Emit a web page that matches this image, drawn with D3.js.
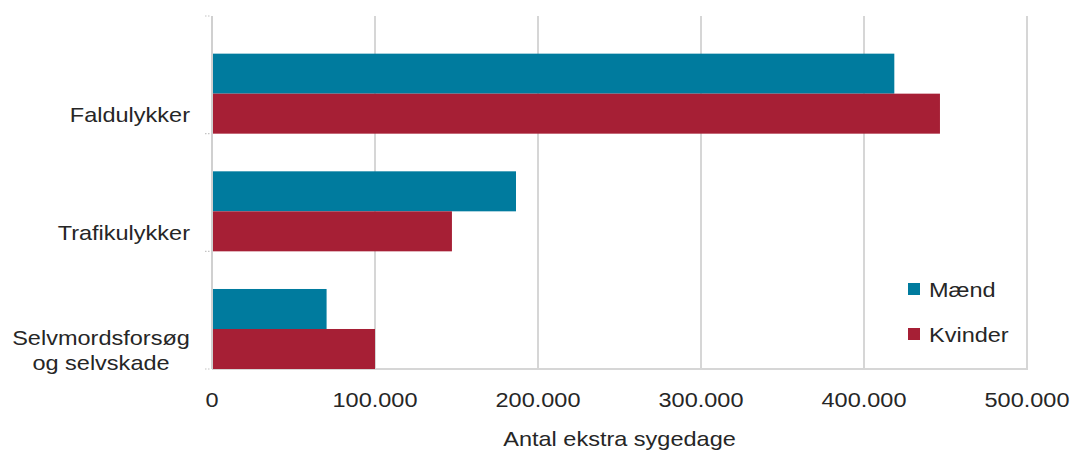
<!DOCTYPE html>
<html>
<head>
<meta charset="utf-8">
<script src="https://cdn.jsdelivr.net/npm/d3@7"></script>
<style>
  body { margin: 0; background: #fff; }
  text { font-family: "Liberation Sans", Arial, sans-serif; fill: #262626; font-size: 21px; }
</style>
</head>
<body>
<div id="chart"></div>
<script>
// categories (top to bottom) and series
var categories = ["Faldulykker", "Trafikulykker", "Selvmordsforsøg og selvskade"];
var categoryLines = [["Faldulykker"], ["Trafikulykker"], ["Selvmordsforsøg", "og selvskade"]];
var series = ["Mænd", "Kvinder"];
var maend = [418600, 186500, 70300];
var kvinder = [446600, 147200, 100000];
var xTicks = [0, 100000, 200000, 300000, 400000, 500000];
var xTitle = "Antal ekstra sygedage";
var colors = ["#007b9e", "#a61f35"];

function main() {
    var width = 1076,
        height = 452;

    var svg = d3.select("#chart").append("svg")
        .attr("width", width)
        .attr("height", height);

    // plot area
    var left = 212, right = 1027, top = 16, bottom = 369;
    // the original text is a bit wider than Arial
    var stretch = " scale(1.12,1)";

    var x = d3.scaleLinear().domain([0, 500000]).range([left, right]);
    var y0 = d3.scaleBand().domain(categories).range([top, bottom]).paddingInner(0);
    // bars sit in the lower part of each band, like the original
    var y1 = d3.scaleBand().domain(series)
        .range([y0.bandwidth() * 0.32, y0.bandwidth()]);

    var color = d3.scaleOrdinal().domain(series).range(colors);

    // gridlines
    svg.append("g").selectAll("line")
        .data(xTicks.slice(1))
        .enter().append("line")
        .attr("x1", function(d) { return x(d); })
        .attr("x2", function(d) { return x(d); })
        .attr("y1", top)
        .attr("y2", bottom)
        .attr("stroke", "#d6d6d6")
        .attr("stroke-width", 2);

    // bottom border + left axis line
    svg.append("line")
        .attr("x1", left).attr("x2", right + 1)
        .attr("y1", bottom).attr("y2", bottom)
        .attr("stroke", "#d6d6d6").attr("stroke-width", 2);
    svg.append("line")
        .attr("x1", left).attr("x2", left)
        .attr("y1", top).attr("y2", bottom)
        .attr("stroke", "#d0d0d0").attr("stroke-width", 2);

    // small y ticks at band edges
    var edges = categories.map(function(c) { return y0(c); }).concat([bottom]);
    svg.append("g").selectAll("line")
        .data(edges)
        .enter().append("line")
        .attr("x1", left - 7).attr("x2", left - 1)
        .attr("y1", function(d) { return d; })
        .attr("y2", function(d) { return d; })
        .attr("stroke", "#c4c4c4")
        .attr("stroke-width", 1.2)
        .attr("stroke-dasharray", "1.5,1.5");

    // bars
    var rows = categories.map(function(c, i) {
        return { cat: c, values: [
            { key: series[0], value: maend[i] },
            { key: series[1], value: kvinder[i] }
        ] };
    });

    var groups = svg.append("g").selectAll("g")
        .data(rows)
        .enter().append("g")
        .attr("transform", function(d) { return "translate(0," + y0(d.cat) + ")"; });

    groups.selectAll("rect")
        .data(function(d) { return d.values; })
        .enter().append("rect")
        .attr("x", x(0) + 1)
        .attr("y", function(d) { return y1(d.key); })
        .attr("width", function(d) { return x(d.value) - x(0) - 1; })
        .attr("height", y1.bandwidth())
        .attr("fill", function(d) { return color(d.key); });

    // category labels
    var labels = svg.append("g").selectAll("text")
        .data(categories)
        .enter().append("text")
        .attr("text-anchor", function(d, i) { return categoryLines[i].length > 1 ? "middle" : "end"; })
        .attr("transform", function(d, i) {
            var tx = categoryLines[i].length > 1 ? 101 : 190;
            var ty = y0(d) + y0.bandwidth() * 0.9 - (categoryLines[i].length - 1) * 12.5;
            return "translate(" + tx + "," + ty + ")" + stretch;
        });
    labels.selectAll("tspan")
        .data(function(d, i) { return categoryLines[i]; })
        .enter().append("tspan")
        .attr("x", 0)
        .attr("dy", function(d, j) { return j === 0 ? 0 : 25; })
        .text(function(d) { return d; });

    // x tick labels
    var fmt = function(d) { return d3.format(",")(d).replace(/,/g, "."); };
    svg.append("g").selectAll("text")
        .data(xTicks)
        .enter().append("text")
        .attr("transform", function(d) { return "translate(" + x(d) + ",407)" + stretch; })
        .attr("text-anchor", "middle")
        .text(fmt);

    // axis title
    svg.append("text")
        .attr("transform", "translate(" + (left + right) / 2 + ",446)" + stretch)
        .attr("text-anchor", "middle")
        .text(xTitle);

    // legend
    var legend = svg.append("g").selectAll("g")
        .data(series)
        .enter().append("g")
        .attr("transform", function(d, i) { return "translate(908," + (283 + i * 45) + ")"; });
    legend.append("rect")
        .attr("width", 12).attr("height", 12)
        .attr("fill", function(d) { return color(d); });
    legend.append("text")
        .attr("transform", "translate(21,14)" + stretch)
        .text(function(d) { return d; });
}
main();
</script>
</body>
</html>
